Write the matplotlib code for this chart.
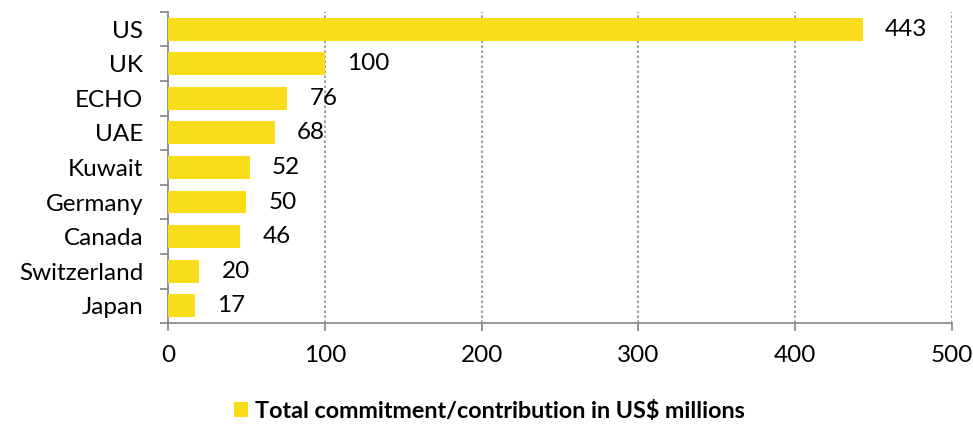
import matplotlib
matplotlib.use("Agg")
import matplotlib.pyplot as plt
from matplotlib.patches import Patch
import numpy as np

countries = ["US", "UK", "ECHO", "UAE", "Kuwait", "Germany", "Canada", "Switzerland", "Japan"]
values = [443, 100, 76, 68, 52, 50, 46, 20, 17]
xticks = [0, 100, 200, 300, 400, 500]
legend_label = "Total commitment/contribution in US$ millions"

bar_color = "#F9DC1A"
axis_grey = "#8C8C8C"

plt.rcParams["font.family"] = ["Lato", "DejaVu Sans"]

fig = plt.figure(figsize=(9.73, 4.24), dpi=100)
ax = fig.add_axes([0.1727, 0.238, 0.8057, 0.734])

y = np.arange(len(countries))
ax.barh(y, values, height=0.66, color=bar_color, zorder=3)

for yi, v in zip(y, values):
    ax.annotate(str(v), (v, yi), xytext=(16, 0), textcoords="offset points",
                va="center", ha="left", fontsize=17.5, color="black")

ax.set_xlim(0, 500)
ax.set_ylim(len(countries) - 0.5, -0.5)
ax.set_xticks(xticks)
ax.set_xticklabels([str(t) for t in xticks], fontsize=17.5)
ax.set_yticks(y)
ax.set_yticklabels(countries, fontsize=17.5)
ax.set_yticks(np.arange(-0.5, len(countries)), minor=True)
ax.tick_params(axis="y", which="major", length=0, pad=18)
ax.tick_params(axis="y", which="minor", length=6, width=1.3, color=axis_grey, direction="out")
ax.tick_params(axis="x", which="major", length=6, width=1.3, color=axis_grey, direction="out", pad=10)

ax.grid(axis="x", linestyle=(0, (1.5, 1.5)), color=axis_grey, linewidth=1.2, zorder=0)
for s in ["top", "right"]:
    ax.spines[s].set_visible(False)
for s in ["left", "bottom"]:
    ax.spines[s].set_color(axis_grey)
    ax.spines[s].set_linewidth(1.3)

handle = Patch(facecolor=bar_color, edgecolor="none")
fig.legend([handle], [legend_label], loc="center", bbox_to_anchor=(0.503, 0.03),
           frameon=False, prop={"weight": "bold", "size": 16.8},
           handlelength=0.6, handleheight=0.6, handletextpad=0.3)

fig.savefig("out.png", dpi=100)
